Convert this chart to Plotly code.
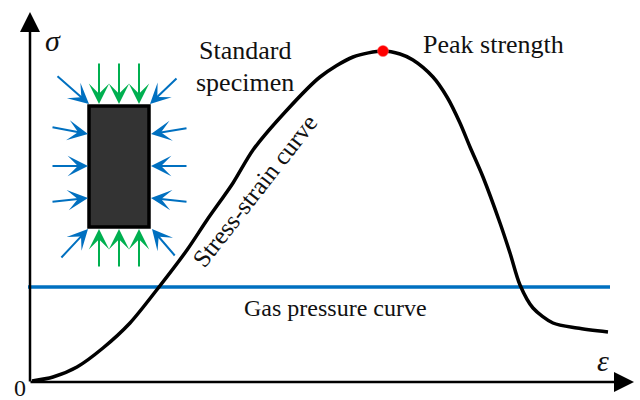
import plotly.graph_objects as go

# Stress-strain curve (schematic), origin at the axes corner
strain = [2, 23, 47, 73, 100, 129, 157, 177, 203, 223, 257, 290, 323, 353, 370,
          383, 403, 417, 430, 440, 453, 470, 480, 490, 503, 523, 547, 578]
stress = [1, 5, 15, 34, 59, 95, 132, 162, 199, 232, 272, 305, 325, 331, 328,
          322, 305, 285, 259, 235, 205, 159, 129, 97, 74, 59, 54, 50]

peak_strain = [353]
peak_stress = [331]

gas_strain = [-2, 580]
gas_pressure = [95, 95]

# specimen box (x0, x1, y0, y1)
specimen = [59, 119, 155, 276]

# loading arrows: (tail_x, tail_y, tip_x, tip_y)
axial_arrows = [(69, 320, 69, 278), (89, 320, 89, 278), (109, 320, 109, 278),
                (69, 114, 69, 153), (89, 114, 89, 153), (109, 114, 109, 153)]
confining_arrows = [(21, 255, 58, 248), (21, 216, 58, 216), (21, 180, 58, 184),
                    (158, 254, 121, 248), (158, 216, 121, 216), (158, 180, 121, 184),
                    (26, 307, 59, 278), (148, 305, 120, 278),
                    (30, 123, 58, 153), (146, 125, 122, 153)]

BLUE = "#0070C0"
GREEN = "#00B050"
SERIF = "Liberation Serif"

fig = go.Figure()

fig.add_trace(go.Scatter(x=gas_strain, y=gas_pressure, mode="lines",
                         line=dict(color=BLUE, width=3.5), hoverinfo="skip"))
fig.add_trace(go.Scatter(x=strain, y=stress, mode="lines",
                         line=dict(color="black", width=3.5, shape="spline", smoothing=0.8),
                         hoverinfo="skip"))
fig.add_trace(go.Scatter(x=peak_strain, y=peak_stress, mode="markers",
                         marker=dict(color="#FF0000", size=11, line=dict(color="#ff6060", width=0.5)),
                         hoverinfo="skip"))

fig.add_shape(type="rect", x0=specimen[0], x1=specimen[1], y0=specimen[2], y1=specimen[3],
              xref="x", yref="y", fillcolor="#333333", line=dict(color="black", width=3.5))

annotations = []
# axes with arrowheads
annotations.append(dict(x=0, y=370, ax=0, ay=-1, xref="x", yref="y", axref="x", ayref="y",
                        text="", showarrow=True, arrowhead=2, arrowsize=1.6, arrowwidth=2.5,
                        arrowcolor="black", standoff=0, startstandoff=0))
annotations.append(dict(x=604, y=0, ax=-1, ay=0, xref="x", yref="y", axref="x", ayref="y",
                        text="", showarrow=True, arrowhead=2, arrowsize=1.6, arrowwidth=2.5,
                        arrowcolor="black", standoff=0, startstandoff=0))

for (tx, ty, hx, hy) in axial_arrows:
    annotations.append(dict(x=hx, y=hy, ax=tx, ay=ty, xref="x", yref="y", axref="x", ayref="y",
                            text="", showarrow=True, arrowhead=3, arrowsize=1.7, arrowwidth=2,
                            arrowcolor=GREEN, standoff=0))
for (tx, ty, hx, hy) in confining_arrows:
    annotations.append(dict(x=hx, y=hy, ax=tx, ay=ty, xref="x", yref="y", axref="x", ayref="y",
                            text="", showarrow=True, arrowhead=3, arrowsize=1.7, arrowwidth=2,
                            arrowcolor=BLUE, standoff=0))

def label(x, y, text, size=24, italic=False, angle=0):
    t = f"<i>{text}</i>" if italic else text
    return dict(x=x, y=y, xref="x", yref="y", text=t, showarrow=False, textangle=angle,
                font=dict(family=SERIF, size=size, color="#111111"),
                xanchor="center", yanchor="middle")

annotations += [
    label(23, 342, "σ", size=30, italic=True),
    label(573, 22, "ε", size=30, italic=True),
    label(-10, -6, "0", size=24),
    label(215, 332, "Standard", size=26),
    label(215, 300, "specimen", size=26),
    label(463, 338, "Peak strength", size=26),
    label(305, 74, "Gas pressure curve", size=24),
    label(224, 191, "Stress-strain curve", size=25, angle=-52),
]

fig.update_layout(
    width=640, height=400, margin=dict(l=0, r=0, t=0, b=0),
    paper_bgcolor="white", plot_bgcolor="white", showlegend=False,
    font=dict(family=SERIF),
    xaxis=dict(range=[-30, 610], visible=False, fixedrange=True),
    yaxis=dict(range=[-18, 382], visible=False, fixedrange=True),
    annotations=annotations,
)

fig.write_html("out.html")
